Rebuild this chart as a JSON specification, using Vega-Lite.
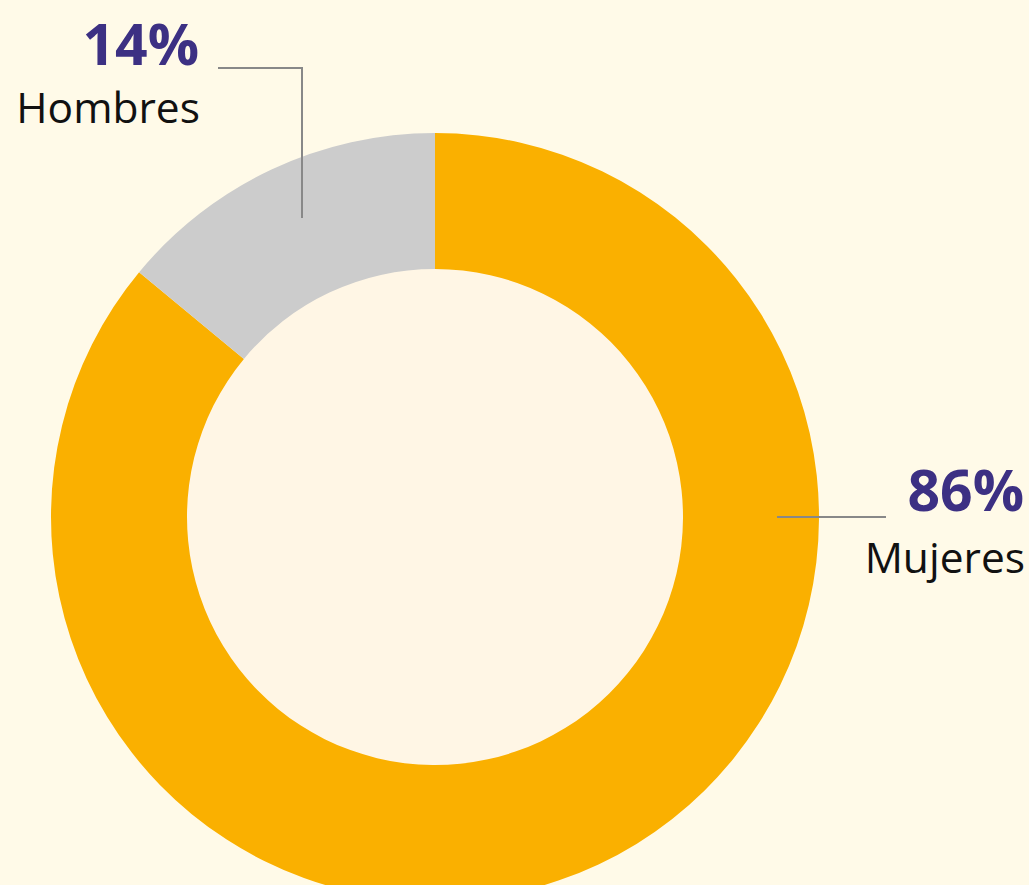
{
  "$schema": "https://vega.github.io/schema/vega-lite/v6.json",
  "width": 1029,
  "height": 885,
  "autosize": "none",
  "padding": 0,
  "background": "#FFFAE8",
  "view": {"stroke": null},
  "datasets": {
    "partes": [
      {"sexo": "Mujeres", "pct": 0.86, "orden": 1},
      {"sexo": "Hombres", "pct": 0.14, "orden": 2}
    ],
    "etiquetas": [
      {"sexo": "Hombres", "tipo": "pct", "texto": "14%", "x": -236, "y": 452},
      {"sexo": "Hombres", "tipo": "nombre", "texto": "Hombres", "x": -235, "y": 394},
      {"sexo": "Mujeres", "tipo": "pct", "texto": "86%", "x": 589, "y": 6},
      {"sexo": "Mujeres", "tipo": "nombre", "texto": "Mujeres", "x": 590, "y": -56}
    ],
    "guias": [
      {"sexo": "Hombres", "orden": 1, "x": -217, "y": 449},
      {"sexo": "Hombres", "orden": 2, "x": -133, "y": 449},
      {"sexo": "Hombres", "orden": 3, "x": -133, "y": 299},
      {"sexo": "Mujeres", "orden": 1, "x": 342, "y": 0},
      {"sexo": "Mujeres", "orden": 2, "x": 451, "y": 0}
    ],
    "centro": [{"parte": "centro"}]
  },
  "layer": [
    {
      "data": {"name": "centro"},
      "mark": {"type": "arc", "radius": 252, "theta": 0, "theta2": 6.2832, "fill": "#FFF6E5"},
      "encoding": {
        "x": {"datum": 0, "type": "quantitative", "scale": {"domain": [-435, 594], "nice": false, "zero": false}, "axis": null},
        "y": {"datum": 0, "type": "quantitative", "scale": {"domain": [-368, 517], "nice": false, "zero": false}, "axis": null}
      }
    },
    {
      "data": {"name": "partes"},
      "mark": {"type": "arc", "radius": 384, "radius2": 248},
      "encoding": {
        "x": {"datum": 0, "type": "quantitative", "scale": {"domain": [-435, 594], "nice": false, "zero": false}, "axis": null},
        "y": {"datum": 0, "type": "quantitative", "scale": {"domain": [-368, 517], "nice": false, "zero": false}, "axis": null},
        "theta": {"field": "pct", "type": "quantitative", "stack": true},
        "order": {"field": "orden", "type": "quantitative"},
        "color": {"field": "sexo", "type": "nominal", "scale": {"domain": ["Mujeres", "Hombres"], "range": ["#FAB000", "#CCCCCC"]}, "legend": null}
      }
    },
    {
      "data": {"name": "guias"},
      "mark": {"type": "line", "color": "#888888", "strokeWidth": 2},
      "encoding": {
        "x": {"field": "x", "type": "quantitative", "scale": {"domain": [-435, 594], "nice": false, "zero": false}, "axis": null},
        "y": {"field": "y", "type": "quantitative", "scale": {"domain": [-368, 517], "nice": false, "zero": false}, "axis": null},
        "detail": {"field": "sexo", "type": "nominal"},
        "order": {"field": "orden", "type": "quantitative"}
      }
    },
    {
      "data": {"name": "etiquetas"},
      "transform": [{"filter": "datum.tipo === 'pct'"}],
      "mark": {"type": "text", "align": "right", "baseline": "alphabetic", "font": "Open Sans", "fontWeight": "bold", "fontSize": 57, "color": "#3C3083"},
      "encoding": {
        "x": {"field": "x", "type": "quantitative", "scale": {"domain": [-435, 594], "nice": false, "zero": false}, "axis": null},
        "y": {"field": "y", "type": "quantitative", "scale": {"domain": [-368, 517], "nice": false, "zero": false}, "axis": null},
        "text": {"field": "texto", "type": "nominal"}
      }
    },
    {
      "data": {"name": "etiquetas"},
      "transform": [{"filter": "datum.tipo === 'nombre'"}],
      "mark": {"type": "text", "align": "right", "baseline": "alphabetic", "font": "Open Sans", "fontSize": 42.5, "color": "#111111"},
      "encoding": {
        "x": {"field": "x", "type": "quantitative", "scale": {"domain": [-435, 594], "nice": false, "zero": false}, "axis": null},
        "y": {"field": "y", "type": "quantitative", "scale": {"domain": [-368, 517], "nice": false, "zero": false}, "axis": null},
        "text": {"field": "texto", "type": "nominal"}
      }
    }
  ]
}
